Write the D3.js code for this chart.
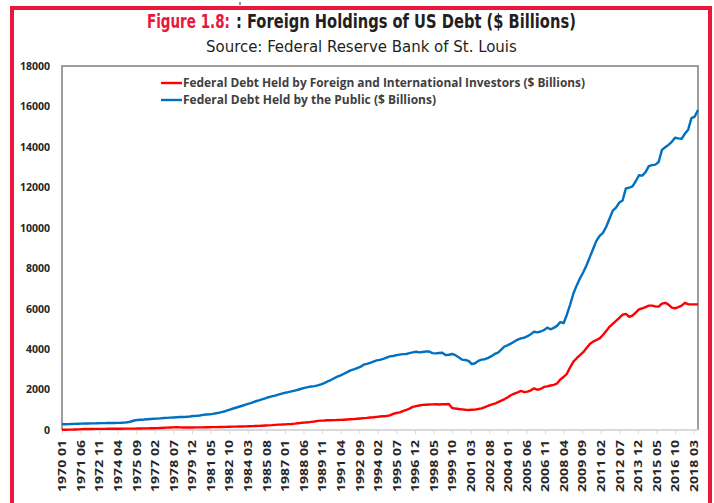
<!DOCTYPE html>
<html><head><meta charset="utf-8">
<script src="https://cdn.jsdelivr.net/npm/d3@7"></script>
<style>
html,body{margin:0;padding:0;background:#fff;}
svg{display:block;}
</style></head>
<body>
<svg id="chart" width="714" height="503"></svg>
<script>
// ---- DATA (quarterly values, starting 1970 Q1; $ billions) ----
const startYear = 1970;
const publicDebt = [
  283,285,290,297, 303,308,314,320, 324,326,330,336, 340,342,344,346,
  348,350,355,365, 380,420,470,495, 510,520,535,545, 555,565,577,590,
  600,610,620,630, 640,645,655,670, 690,700,720,745, 765,780,800,830,
  860,900,940,1000, 1050,1100,1150,1200, 1250,1300,1350,1420, 1460,1510,1560,1620,
  1660,1700,1750,1800, 1840,1870,1910,1950, 1990,2040,2080,2120, 2150,2170,2210,2260,
  2320,2400,2470,2560, 2640,2700,2780,2860, 2950,3000,3060,3120, 3230,3270,3320,3380,
  3440,3470,3520,3580, 3640,3660,3700,3730, 3750,3760,3800,3840, 3870,3840,3860,3880,
  3880,3800,3790,3810, 3820,3710,3720,3760, 3700,3600,3480,3460, 3420,3260,3300,3420,
  3480,3500,3570,3650, 3760,3830,3980,4130, 4200,4280,4380,4470, 4530,4560,4640,4740,
  4860,4830,4870,4940, 5060,4980,5050,5150, 5340,5280,5700,6200, 6750,7150,7500,7800,
  8150,8550,8950,9350, 9600,9750,10050,10450, 10850,11000,11250,11350, 11950,11980,12050,12300,
  12600,12580,12750,13050, 13100,13120,13250,13850, 13980,14100,14250,14450, 14420,14400,14650,14850,
  15420,15500,15825
];
const foreignDebt = [
  14,16,18,20, 25,33,45,48, 50,52,54,56, 57,58,59,60,
  60,62,64,66, 66,68,70,72, 74,78,80,84, 88,95,102,108,
  118,125,130,134, 130,122,120,120, 125,128,130,132, 135,138,140,142,
  145,150,155,160, 165,168,172,176, 180,185,192,200, 205,212,220,230,
  240,255,265,270, 280,290,300,315, 335,355,365,380, 400,420,450,465,
  470,480,485,490, 495,500,510,520, 530,540,555,570, 585,600,620,630,
  650,665,680,690, 720,800,840,870, 930,990,1060,1140, 1180,1210,1240,1250,
  1260,1265,1270,1260, 1270,1275,1285,1090, 1060,1040,1020,1000, 990,1000,1010,1040,
  1070,1130,1200,1250, 1300,1380,1450,1530, 1620,1730,1800,1860, 1930,1870,1900,1960,
  2060,1990,2030,2130, 2160,2200,2230,2300, 2500,2620,2780,3100, 3380,3550,3700,3850,
  4050,4250,4370,4450, 4530,4700,4900,5100, 5250,5400,5550,5700, 5740,5600,5650,5800,
  5960,6020,6080,6150, 6150,6110,6100,6250, 6290,6200,6050,6020, 6080,6150,6290,6220,
  6214,6214,6214
];
const tickLabels = [
  "1970 01","1971 06","1972 11","1974 04","1975 09","1977 02","1978 07","1979 12",
  "1981 05","1982 10","1984 03","1985 08","1987 01","1988 06","1989 11","1991 04",
  "1992 09","1994 02","1995 07","1996 12","1998 05","1999 10","2001 03","2002 08",
  "2004 01","2005 06","2006 11","2008 04","2009 09","2011 02","2012 07","2013 12",
  "2015 05","2016 10","2018 03"
];
const yTicks = [0,2000,4000,6000,8000,10000,12000,14000,16000,18000];
const seriesNames = [
  "Federal Debt Held by Foreign and International Investors ($ Billions)",
  "Federal Debt Held by the Public ($ Billions)"
];
const seriesColors = ["#ff0000","#0070c0"];

// ---- DRAW ----
const svg = d3.select("#chart");
const L = 62, R = 698, T = 66, B = 430;
const monthIndex = s => (+s.slice(0,4) - startYear) * 12 + (+s.slice(5,7) - 1);
const lastMonth = (publicDebt.length - 1) * 3;
const x = d3.scaleLinear().domain([0, lastMonth]).range([L, R]);
const y = d3.scaleLinear().domain([0, 18000]).range([B, T]);
const narrow = "'Liberation Sans Narrow','DejaVu Sans Condensed',sans-serif";
const body = "'Open Sans', Lato, sans-serif";

// helper: fit a text horizontally to a target width by scaling
function fitText(sel, x0, y0, width) {
  const w = sel.node().getComputedTextLength();
  const s = width / w;
  sel.attr("x", 0).attr("y", 0)
     .attr("transform", `translate(${x0},${y0}) scale(${s},1)`);
}

// red frame
svg.append("rect").attr("x", 12).attr("y", 8).attr("width", 698).attr("height", 520)
  .attr("fill", "none").attr("stroke", "#e8173b").attr("stroke-width", 4);
svg.append("line").attr("x1", 240).attr("x2", 240).attr("y1", 2).attr("y2", 5)
  .attr("stroke", "#222").attr("stroke-width", 1);

// title (two parts)
const t1 = svg.append("text")
  .attr("font-family", narrow).attr("font-weight", "bold").attr("font-size", 20)
  .attr("fill", "#e8173b").text("Figure 1.8:");
fitText(t1, 147, 28, 83);
const t2 = svg.append("text")
  .attr("font-family", narrow).attr("font-weight", "bold").attr("font-size", 20)
  .attr("fill", "#231f20").text(": Foreign Holdings of US Debt ($ Billions)");
fitText(t2, 236, 28, 340);
const st = svg.append("text")
  .attr("font-family", narrow).attr("font-size", 16).attr("fill", "#231f20")
  .text("Source: Federal Reserve Bank of St. Louis");
fitText(st, 206, 52, 311);

// plot frame
svg.append("path").attr("d", `M${L},${B}V${T}H${R}V${B}`)
  .attr("fill", "none").attr("stroke", "#7f7f7f").attr("stroke-width", 1.5);

// x axis
const xAxis = d3.axisBottom(x)
  .tickValues(tickLabels.map(monthIndex))
  .tickFormat((d, i) => tickLabels[i])
  .tickSize(4).tickSizeOuter(0);
const gx = svg.append("g").attr("transform", `translate(0,${B})`).call(xAxis);
gx.select(".domain").attr("stroke", "#d9d9d9").attr("stroke-width", 2.2)
  .attr("d", `M${L},0H${R}`);
gx.selectAll(".tick line").attr("stroke", "#d9d9d9").attr("stroke-width", 1);
gx.selectAll(".tick text")
  .attr("transform", "rotate(-90)")
  .attr("x", -10).attr("y", 0).attr("dy", "0.36em")
  .attr("text-anchor", "end")
  .attr("font-family", body)
  .attr("font-weight", "bold").attr("font-size", 10.5).attr("fill", "#262626")
  .attr("textLength", 52).attr("lengthAdjust", "spacingAndGlyphs");

// y axis
const yAxis = d3.axisLeft(y).tickValues(yTicks).tickFormat(d3.format("d"))
  .tickSize(0).tickPadding(12);
const gy = svg.append("g").attr("transform", `translate(${L},0)`).call(yAxis);
gy.select(".domain").remove();
gy.selectAll(".tick text")
  .attr("font-family", body)
  .attr("font-weight", "bold").attr("font-size", 10.5).attr("fill", "#262626");

// lines
const line = d3.line().x((d, i) => x(i * 3)).y(d => y(d));
[publicDebt, foreignDebt].forEach((s, k) => {
  svg.append("path").datum(s).attr("d", line)
    .attr("fill", "none").attr("stroke", seriesColors[1 - k])
    .attr("stroke-width", 2.4).attr("stroke-linejoin", "round");
});

// legend
const legendLengths = [402, 253];
const lg = svg.append("g");
seriesNames.forEach((n, k) => {
  const yy = 83 + k * 17;
  lg.append("line").attr("x1", 161).attr("x2", 182).attr("y1", yy).attr("y2", yy)
    .attr("stroke", seriesColors[k]).attr("stroke-width", 2.4);
  lg.append("text").attr("x", 183).attr("y", yy).attr("dy", "0.36em")
    .attr("font-family", body)
    .attr("font-weight", "bold").attr("font-size", 11.5).attr("fill", "#404040")
    .attr("textLength", legendLengths[k]).attr("lengthAdjust", "spacingAndGlyphs")
    .text(n);
});
</script>
</body></html>
